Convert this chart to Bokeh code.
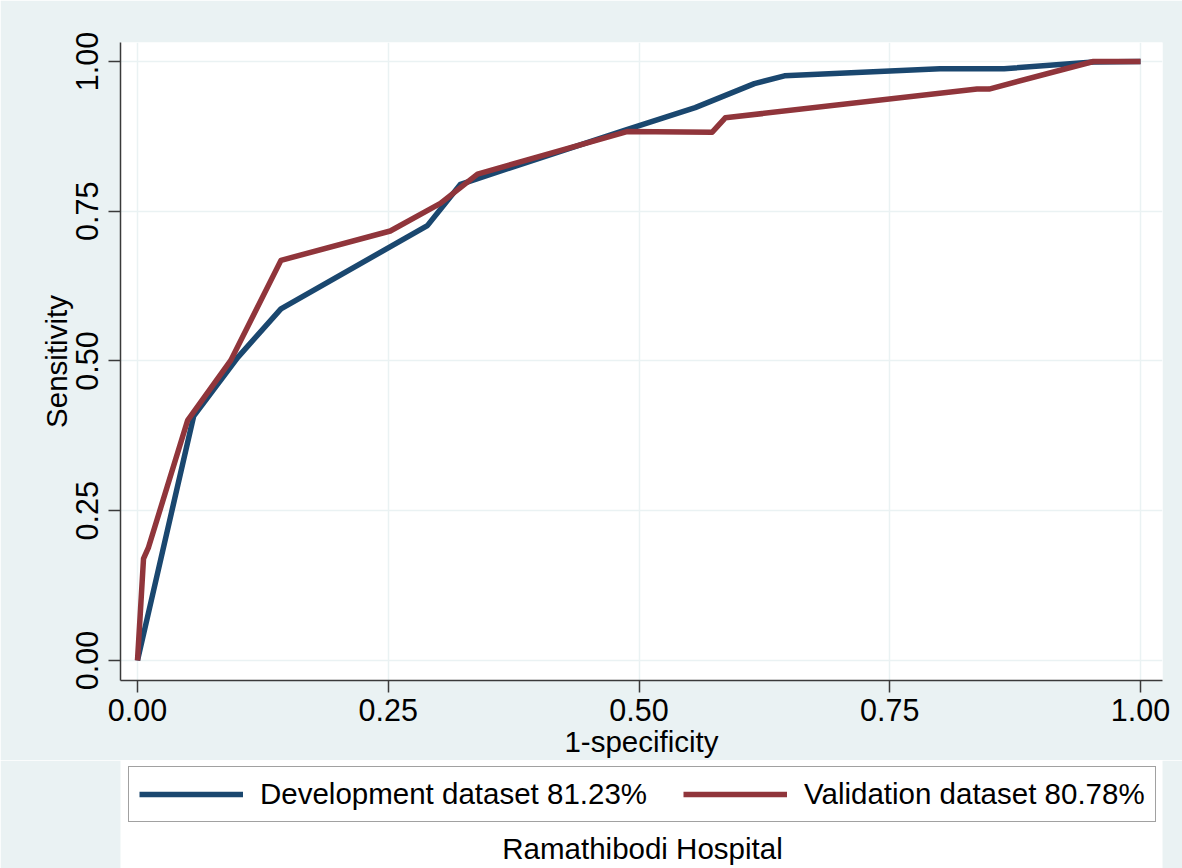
from bokeh.plotting import figure
from bokeh.layouts import column
from bokeh.models import (Range1d, FixedTicker, Legend, LegendItem, Label)
from bokeh.embed import file_html
from bokeh.resources import INLINE

# ---- data ----
dev_fpr = [0.0, 0.056, 0.100, 0.143, 0.289, 0.322, 0.487, 0.556, 0.615, 0.645, 0.800, 0.864, 0.953, 1.0]
dev_tpr = [0.0, 0.408, 0.506, 0.587, 0.726, 0.795, 0.886, 0.923, 0.963, 0.976, 0.988, 0.988, 0.999, 1.0]

val_fpr = [0.0, 0.006, 0.011, 0.050, 0.093, 0.143, 0.252, 0.302, 0.339, 0.488, 0.573, 0.586, 0.837, 0.849, 0.953, 1.0]
val_tpr = [0.0, 0.170, 0.189, 0.401, 0.501, 0.668, 0.717, 0.763, 0.812, 0.883, 0.882, 0.906, 0.954, 0.954, 1.0, 1.0]

tick_values = [0.0, 0.25, 0.5, 0.75, 1.0]
tick_labels = ["0.00", "0.25", "0.50", "0.75", "1.00"]

dev_label = "Development dataset 81.23%"
val_label = "Validation dataset 80.78%"
x_title = "1-specificity"
y_title = "Sensitivity"
note = "Ramathibodi Hospital"

# ---- style ----
BG = "#eaf2f3"
BLUE = "#1a476f"
RED = "#90353b"
FONT = "Liberation Sans"
FS = "29.5px"
TFS = "30.5px"
AXIS = "#3a3a3a"
W = 1182
H1 = 760
H2 = 108

xr = Range1d(-0.01695, 1.0219)

p = figure(width=W, height=H1, output_backend="svg", toolbar_location=None,
           x_range=xr, y_range=Range1d(-0.0334, 1.0317),
           min_border_left=120, min_border_right=20, min_border_top=42,
           min_border_bottom=H1 - 680)
p.background_fill_color = "white"
p.border_fill_color = BG
p.outline_line_color = None

for ax in (p.xaxis[0], p.yaxis[0]):
    ax.ticker = FixedTicker(ticks=tick_values)
    ax.major_label_overrides = dict(zip(tick_values, tick_labels))
    ax.minor_tick_line_color = None
    ax.major_tick_out = 12
    ax.major_tick_in = 0
    ax.axis_line_color = AXIS
    ax.axis_line_width = 1.5
    ax.major_tick_line_color = AXIS
    ax.major_tick_line_width = 1.5
    ax.major_label_text_font = FONT
    ax.major_label_text_font_size = TFS
    ax.major_label_text_color = "black"
    ax.axis_label_text_font = FONT
    ax.axis_label_text_font_size = FS
    ax.axis_label_text_font_style = "normal"
    ax.axis_label_text_color = "black"

p.xaxis.axis_label = x_title
p.yaxis.axis_label = y_title
p.xaxis.major_label_standoff = 6
p.xaxis.axis_label_standoff = 1
p.yaxis.major_label_standoff = 10
p.yaxis.axis_label_standoff = 1
p.yaxis.major_label_orientation = "vertical"

p.grid.grid_line_color = BG
p.grid.grid_line_width = 1.5
p.xgrid.ticker = FixedTicker(ticks=tick_values)
p.ygrid.ticker = FixedTicker(ticks=tick_values)

p.line(dev_fpr, dev_tpr, line_color=BLUE, line_width=5.5, line_join="round")
p.line(val_fpr, val_tpr, line_color=RED, line_width=5.5, line_join="round")

# ---- lower panel: legend + note (frame aligned with the plot above) ----
p2 = figure(width=W, height=H2, output_backend="svg", toolbar_location=None,
            x_range=xr, y_range=Range1d(10, 11),
            x_axis_type=None, y_axis_type=None,
            min_border_left=120, min_border_right=20, min_border_top=0,
            min_border_bottom=0)
p2.background_fill_alpha = 0
p2.border_fill_color = BG
p2.outline_line_color = None
p2.grid.visible = False

# legend keys: the same series, drawn outside the visible y-range of this panel
k_dev = p2.line(dev_fpr, dev_tpr, line_color=BLUE, line_width=5.5)
k_val = p2.line(val_fpr, val_tpr, line_color=RED, line_width=5.5)

legend = Legend(items=[LegendItem(label=dev_label, renderers=[k_dev]),
                       LegendItem(label=val_label, renderers=[k_val])],
                orientation="horizontal", location=(8, 46))
legend.label_text_font = FONT
legend.label_text_font_size = FS
legend.label_text_color = "black"
legend.glyph_width = 104
legend.glyph_height = 30
legend.label_standoff = 17
legend.spacing = 36
legend.padding = 10
legend.margin = 0
legend.border_line_color = "#444444"
legend.border_line_width = 1.5
legend.background_fill_color = "white"
legend.background_fill_alpha = 1.0
p2.add_layout(legend, "center")

lbl = Label(x=522, y=20, x_units="screen", y_units="screen", text=note,
            text_align="center", text_baseline="middle",
            text_font=FONT, text_font_size=FS, text_color="black")
p2.add_layout(lbl)

layout = column(p, p2, spacing=0)
open("out.html", "w").write(file_html(layout, INLINE))
